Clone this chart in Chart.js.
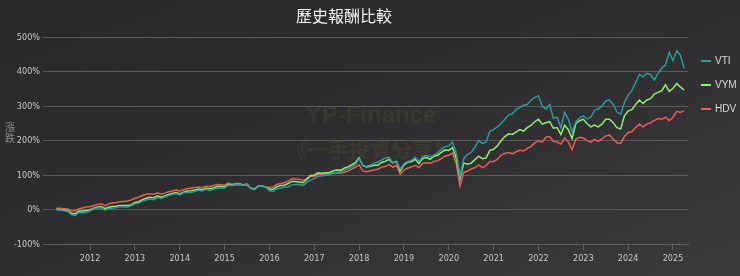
<!DOCTYPE html>
<html>
<head>
<meta charset="utf-8">
<script src="https://cdn.jsdelivr.net/npm/chart.js@4/dist/chart.umd.min.js"></script>
<style>
  html, body { margin: 0; padding: 0; }
  body {
    width: 740px; height: 276px; overflow: hidden;
    background: linear-gradient(160deg, #28282a 0%, #2d2d2f 45%, #3a3a3c 100%);
  }
  #wrap { position: relative; width: 740px; height: 276px; }
</style>
</head>
<body>
<div id="wrap"><canvas id="chart" width="740" height="276"></canvas></div>
<script>
// monthly series, first point = 2011-04
const startYear = 2011;
const startMonth = 4;

const seriesNames = ["VTI", "VYM", "HDV"];
const seriesColors = ["#2a9a9a", "#8cf06e", "#ee5a4f"];

const vti = [
  0, -1, -3, -5, -14, -17, -8, -9, -8,
  -3, 2, 5, 6, -1, 3, 4, 6, 9, 8, 8, 11,
  17, 19, 25, 28, 31, 29, 35, 32, 37, 41, 44, 47,
  43, 49, 50, 50, 53, 56, 54, 59, 56, 59, 63, 62,
  63, 71, 70, 72, 73, 71, 73, 62, 58, 69, 69, 66,
  55, 53, 61, 63, 65, 66, 72, 73, 73, 70, 79, 86,
  90, 97, 98, 100, 102, 105, 108, 109, 114, 119, 125, 130,
  148, 128, 126, 129, 135, 138, 144, 150, 152, 136, 138, 118,
  133, 140, 143, 152, 140, 154, 157, 153, 158, 165, 175, 183,
  185, 196, 165, 98, 148, 160, 166, 182, 200, 192, 196, 228,
  232, 240, 250, 262, 275, 278, 290, 296, 303, 305, 318, 325,
  330, 300, 292, 305, 265, 268, 238, 282, 262, 226, 255, 266,
  272, 263, 268, 288, 292, 300, 315, 318, 305, 283, 277, 310,
  333, 345, 368, 392, 385, 395, 392, 376, 395, 410, 420, 456,
  432, 460, 448, 409
];

const vym = [
  1, 0, -1, -3, -10, -12, -4, -4, -2,
  0, 4, 8, 9, 3, 7, 9, 10, 12, 12, 12, 14,
  21, 23, 29, 33, 36, 35, 40, 36, 40, 44, 47, 50,
  46, 51, 54, 55, 57, 60, 58, 62, 61, 63, 67, 67,
  66, 73, 71, 73, 74, 71, 72, 62, 59, 68, 69, 66,
  59, 59, 67, 70, 71, 76, 82, 82, 80, 78, 88, 99,
  100, 107, 106, 107, 108, 112, 115, 114, 120, 124, 130, 136,
  150, 128, 124, 126, 129, 129, 137, 140, 146, 136, 140, 112,
  130, 138, 139, 146, 134, 148, 151, 146, 155, 158, 166, 173,
  172, 180, 150, 90, 135, 132, 135, 145, 155, 148, 150, 172,
  175, 185, 200, 212, 220, 218, 225, 232, 228, 238, 244, 255,
  262, 248, 252, 255, 236, 238, 218, 245, 232, 206, 250, 258,
  262, 250, 240, 245, 240, 248, 262, 262, 252, 238, 234, 272,
  286, 290, 305, 318, 308, 318, 322, 335, 340, 345, 362, 343,
  352, 366, 355, 347
];

const hdv = [
  4, 4, 3, 2, -3, -4, 3, 5, 8,
  9, 12, 15, 17, 12, 17, 20, 21, 23, 24, 25, 28,
  33, 36, 41, 45, 46, 45, 49, 45, 48, 52, 54, 57,
  54, 58, 61, 63, 64, 66, 64, 68, 67, 70, 73, 72,
  71, 77, 74, 76, 76, 72, 75, 63, 60, 69, 68, 66,
  65, 66, 74, 76, 78, 83, 90, 89, 88, 85, 90, 97,
  97, 103, 103, 104, 105, 106, 107, 106, 108, 112, 118, 123,
  130, 112, 110, 113, 115, 117, 123, 125, 131, 123, 128, 103,
  115, 120, 124, 128, 122, 134, 136, 134, 140, 142, 148, 155,
  158, 164, 135, 68, 108, 112, 118, 122, 130, 122, 128, 140,
  140, 146, 158, 163, 166, 162, 168, 172, 170, 178, 183, 194,
  200, 196, 210, 212, 198, 196, 190, 208, 196, 174, 205, 210,
  208, 200, 196, 204, 198, 205, 214, 216, 205, 194, 192, 212,
  224, 226, 238, 248, 240, 248, 252, 258, 264, 262, 268, 258,
  268, 285, 282, 287
];

const yearTicks = [2012, 2013, 2014, 2015, 2016, 2017, 2018, 2019, 2020, 2021, 2022, 2023, 2024, 2025];
const pctTicks = [-100, 0, 100, 200, 300, 400, 500];

function toPoints(values) {
  return values.map((v, i) => {
    const m = startMonth - 1 + i;
    return { x: startYear + Math.floor(m / 12) + (m % 12) / 12, y: v };
  });
}

const axisFont = { family: "'Liberation Sans Narrow', 'DejaVu Sans Condensed', 'Roboto', sans-serif", size: 9 };
const cjk = "'Noto Sans CJK TC', 'Noto Sans CJK SC', sans-serif";

const watermark = {
  id: "watermark",
  beforeDatasetsDraw(chart) {
    const ctx = chart.ctx;
    ctx.save();
    ctx.fillStyle = "rgba(100, 100, 45, 0.2)";
    ctx.textAlign = "center";
    ctx.textBaseline = "middle";
    ctx.font = "bold 24px 'Liberation Sans', Arial, sans-serif";
    ctx.fillText("YP-Finance", 371, 116);
    ctx.font = "bold 21px " + cjk;
    ctx.fillText("《一手投資分享》", 370, 149);
    ctx.restore();
  },
};

const sideText = {
  id: "sideText",
  afterDraw(chart) {
    const ctx = chart.ctx;
    const area = chart.chartArea;
    ctx.save();
    // y axis title, stacked characters
    ctx.fillStyle = "#8c8c8c";
    ctx.font = "10px " + cjk;
    ctx.textAlign = "center";
    ctx.textBaseline = "middle";
    ctx.fillText("漲", 10, 127);
    ctx.fillText("跌", 10, 138);
    // legend on the right
    ctx.font = "10px 'Liberation Sans', Arial, sans-serif";
    ctx.textAlign = "left";
    chart.data.datasets.forEach((ds, i) => {
      const y = 61 + i * 24;
      ctx.strokeStyle = ds.borderColor;
      ctx.lineWidth = 2;
      ctx.beginPath();
      ctx.moveTo(area.right + 13, y);
      ctx.lineTo(area.right + 23, y);
      ctx.stroke();
      ctx.fillStyle = "#dcdcdc";
      ctx.fillText(ds.label, area.right + 27, y);
    });
    ctx.restore();
  },
};

const allSeries = [vti, vym, hdv];

new Chart(document.getElementById("chart"), {
  type: "line",
  data: {
    datasets: allSeries.map((vals, i) => ({
      label: seriesNames[i],
      data: toPoints(vals),
      borderColor: seriesColors[i],
      backgroundColor: seriesColors[i],
      borderWidth: 1.5,
      pointRadius: 0,
      tension: 0,
    })),
  },
  options: {
    responsive: false,
    animation: false,
    layout: { padding: { left: 0, right: 52, top: 0, bottom: 9 } },
    plugins: {
      legend: { display: false },
      tooltip: { enabled: false },
      title: {
        display: true,
        text: "歷史報酬比較",
        color: "#f2f2f2",
        font: { family: cjk, size: 16, weight: "normal" },
        padding: { top: 6, bottom: 12 },
      },
    },
    scales: {
      x: {
        type: "linear",
        min: 2010.95,
        max: 2025.335,
        afterBuildTicks: (s) => { s.ticks = yearTicks.map((v) => ({ value: v })); },
        ticks: {
          color: "#c8c8c8",
          font: axisFont,
          padding: 3,
          maxRotation: 0,
          callback: (v) => String(v),
        },
        grid: { drawOnChartArea: false, drawTicks: true, tickLength: 6, color: "#5e5e60" },
        border: { color: "#5e5e60" },
      },
      y: {
        min: -100,
        max: 500,
        afterBuildTicks: (s) => { s.ticks = pctTicks.map((v) => ({ value: v })); },
        afterFit: (s) => { s.width = 43; },
        ticks: {
          color: "#c8c8c8",
          font: axisFont,
          padding: 3,
          callback: (v) => v + "%",
        },
        grid: { color: "#5a5a5c", drawTicks: false },
        border: { display: false },
      },
    },
  },
  plugins: [watermark, sideText],
});
</script>
</body>
</html>
